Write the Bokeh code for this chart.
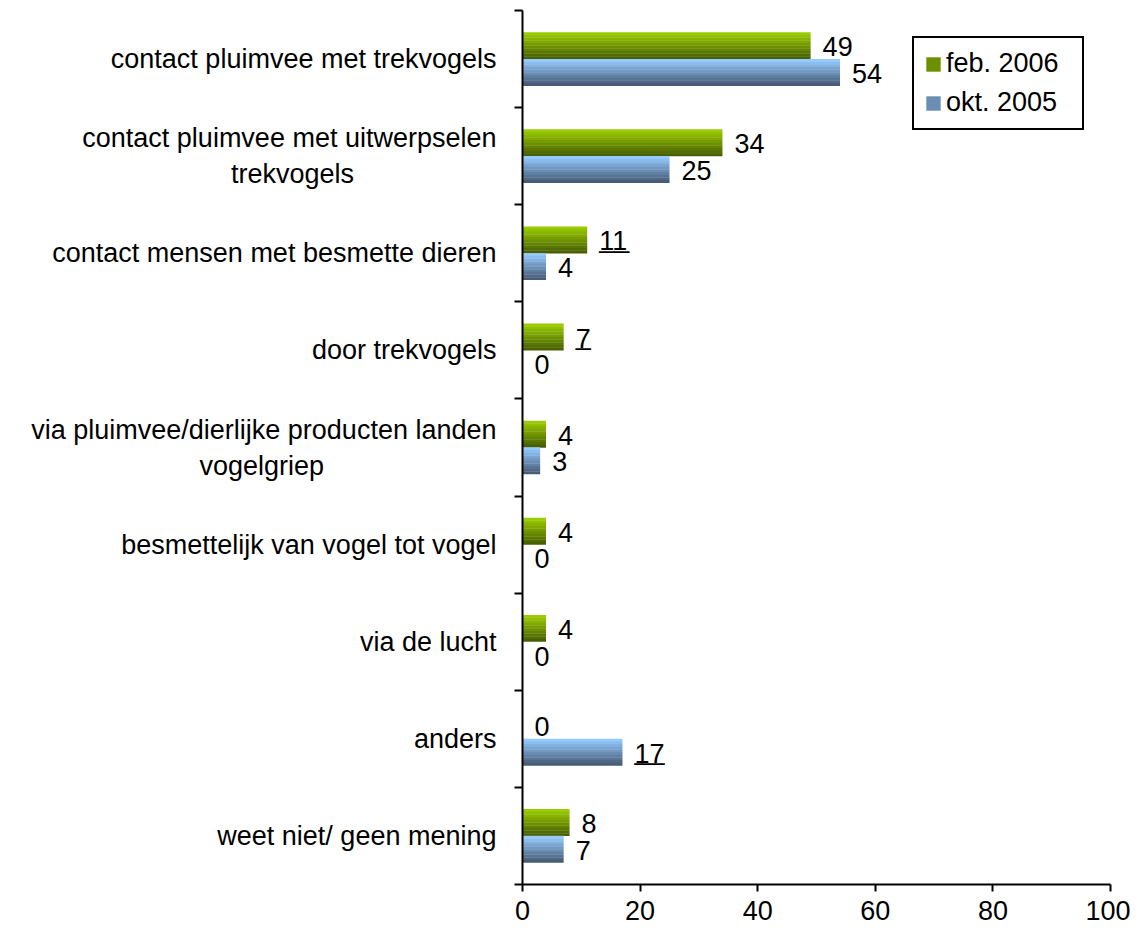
from bokeh.plotting import figure
from bokeh.models import ColumnDataSource, FixedTicker, Legend, LegendItem, Range1d
from bokeh.transform import dodge
from bokeh.core.properties import value
from bokeh.embed import file_html
from bokeh.resources import INLINE

# ---------------- data ----------------
categories = [
    "contact pluimvee met trekvogels",
    "contact pluimvee met uitwerpselen\ntrekvogels",
    "contact mensen met besmette dieren",
    "door trekvogels",
    "via pluimvee/dierlijke producten landen\nvogelgriep",
    "besmettelijk van vogel tot vogel",
    "via de lucht",
    "anders",
    "weet niet/ geen mening",
]
feb_2006 = [49, 34, 11, 7, 4, 4, 4, 0, 8]
okt_2005 = [54, 25, 4, 0, 3, 0, 0, 17, 7]
feb_underlined = [False, False, True, True, False, False, False, False, False]
okt_underlined = [False, False, False, False, False, False, False, True, False]
x_ticks = [0, 20, 40, 60, 80, 100]
series_names = ["feb. 2006", "okt. 2005"]

# ---------------- style ----------------
FONT = "Liberation Sans"
FS = "27px"
BAR_H = 0.275
N_STRIPES = 10
# non-breaking spaces appended to a wrapped label's second line so it looks centred
second_line_pad = [0, 19, 0, 0, 23, 0, 0, 0, 0]


def lerp_hex(c1, c2, t):
    a = [int(c1[i:i + 2], 16) for i in (1, 3, 5)]
    b = [int(c2[i:i + 2], 16) for i in (1, 3, 5)]
    return "#%02x%02x%02x" % tuple(round(a[j] + (b[j] - a[j]) * t) for j in range(3))


def display_label(cat, pad):
    if "\n" in cat and pad:
        first, second = cat.split("\n", 1)
        return first + "\n" + second + "\u00a0" * pad
    return cat


green_top, green_bot = "#9acc00", "#486000"
blue_top, blue_bot = "#94caff", "#475c76"

n = len(categories)
pos = [n - 0.5 - i for i in range(n)]


def lab(vals):
    return [str(v) for v in vals]


def under(vals, flags):
    return ["_" * len(str(v)) if f else "" for v, f in zip(vals, flags)]


src = ColumnDataSource(dict(
    pos=pos, feb=feb_2006, okt=okt_2005,
    feb_lab=lab(feb_2006), okt_lab=lab(okt_2005),
    feb_ul=under(feb_2006, feb_underlined), okt_ul=under(okt_2005, okt_underlined),
))

p = figure(
    width=1130, height=935,
    min_border_left=522, min_border_right=20, min_border_top=10, min_border_bottom=51,
    x_range=Range1d(0, 100), y_range=Range1d(0, n),
    output_backend="svg", toolbar_location=None,
)
p.outline_line_color = None
p.xgrid.visible = False
p.ygrid.visible = False
p.background_fill_color = "white"
p.border_fill_color = "white"

legend_renderers = []
for field, offset, top, bot in (("feb", BAR_H / 2, green_top, green_bot),
                                ("okt", -BAR_H / 2, blue_top, blue_bot)):
    rs = []
    for k in range(N_STRIPES):
        col = lerp_hex(top, bot, k / (N_STRIPES - 1))
        yoff = offset + BAR_H / 2 - (k + 0.5) * BAR_H / N_STRIPES
        r = p.hbar(y=dodge("pos", yoff), left=0, right=field,
                   height=BAR_H / N_STRIPES * 1.1, source=src,
                   fill_color=col, line_color=None)
        rs.append(r)
    legend_renderers.append(rs[N_STRIPES // 2])
    p.text(x=field, y=dodge("pos", offset), text=field + "_lab", source=src,
           x_offset=12, y_offset=1, text_baseline="middle", text_align="left",
           text_font=value(FONT), text_font_size=FS, text_color="black")
    p.text(x=field, y=dodge("pos", offset), text=field + "_ul", source=src,
           x_offset=12, y_offset=-2, text_baseline="middle", text_align="left",
           text_font=value(FONT), text_font_size=FS, text_color="black")

# x axis
xa = p.xaxis[0]
xa.ticker = FixedTicker(ticks=x_ticks, minor_ticks=[])
xa.axis_line_width = 2
xa.axis_line_color = "black"
xa.major_tick_line_width = 2
xa.major_tick_line_color = "black"
xa.major_tick_out = 7
xa.major_tick_in = 0
xa.minor_tick_line_color = None
xa.major_label_standoff = 9
xa.major_label_text_font = FONT
xa.major_label_text_font_size = FS
xa.major_label_text_color = "black"

# y axis: labels at category centres, ticks at boundaries
ya = p.yaxis[0]
ya.ticker = FixedTicker(ticks=pos, minor_ticks=list(range(n + 1)))
ya.major_label_overrides = {pv: display_label(c, pd)
                            for pv, c, pd in zip(pos, categories, second_line_pad)}
ya.axis_line_width = 2
ya.axis_line_color = "black"
ya.major_tick_line_color = None
ya.major_tick_out = 0
ya.major_tick_in = 0
ya.minor_tick_line_color = "black"
ya.minor_tick_line_width = 2
ya.minor_tick_out = 8
ya.minor_tick_in = 0
ya.major_label_standoff = 18
ya.major_label_text_font = FONT
ya.major_label_text_font_size = FS
ya.major_label_text_color = "black"

legend = Legend(
    items=[LegendItem(label=series_names[0], renderers=[legend_renderers[0]]),
           LegendItem(label=series_names[1], renderers=[legend_renderers[1]])],
    location=(390, 754),
    border_line_color="black", border_line_width=2, border_line_alpha=1,
    background_fill_color="white", background_fill_alpha=1,
    label_text_font=FONT, label_text_font_size=FS, label_text_color="black",
    glyph_width=18, glyph_height=18, label_height=28, label_width=126,
    label_standoff=4, spacing=8, padding=10, margin=0,
)
p.add_layout(legend, "center")

open("out.html", "w").write(file_html(p, INLINE))
